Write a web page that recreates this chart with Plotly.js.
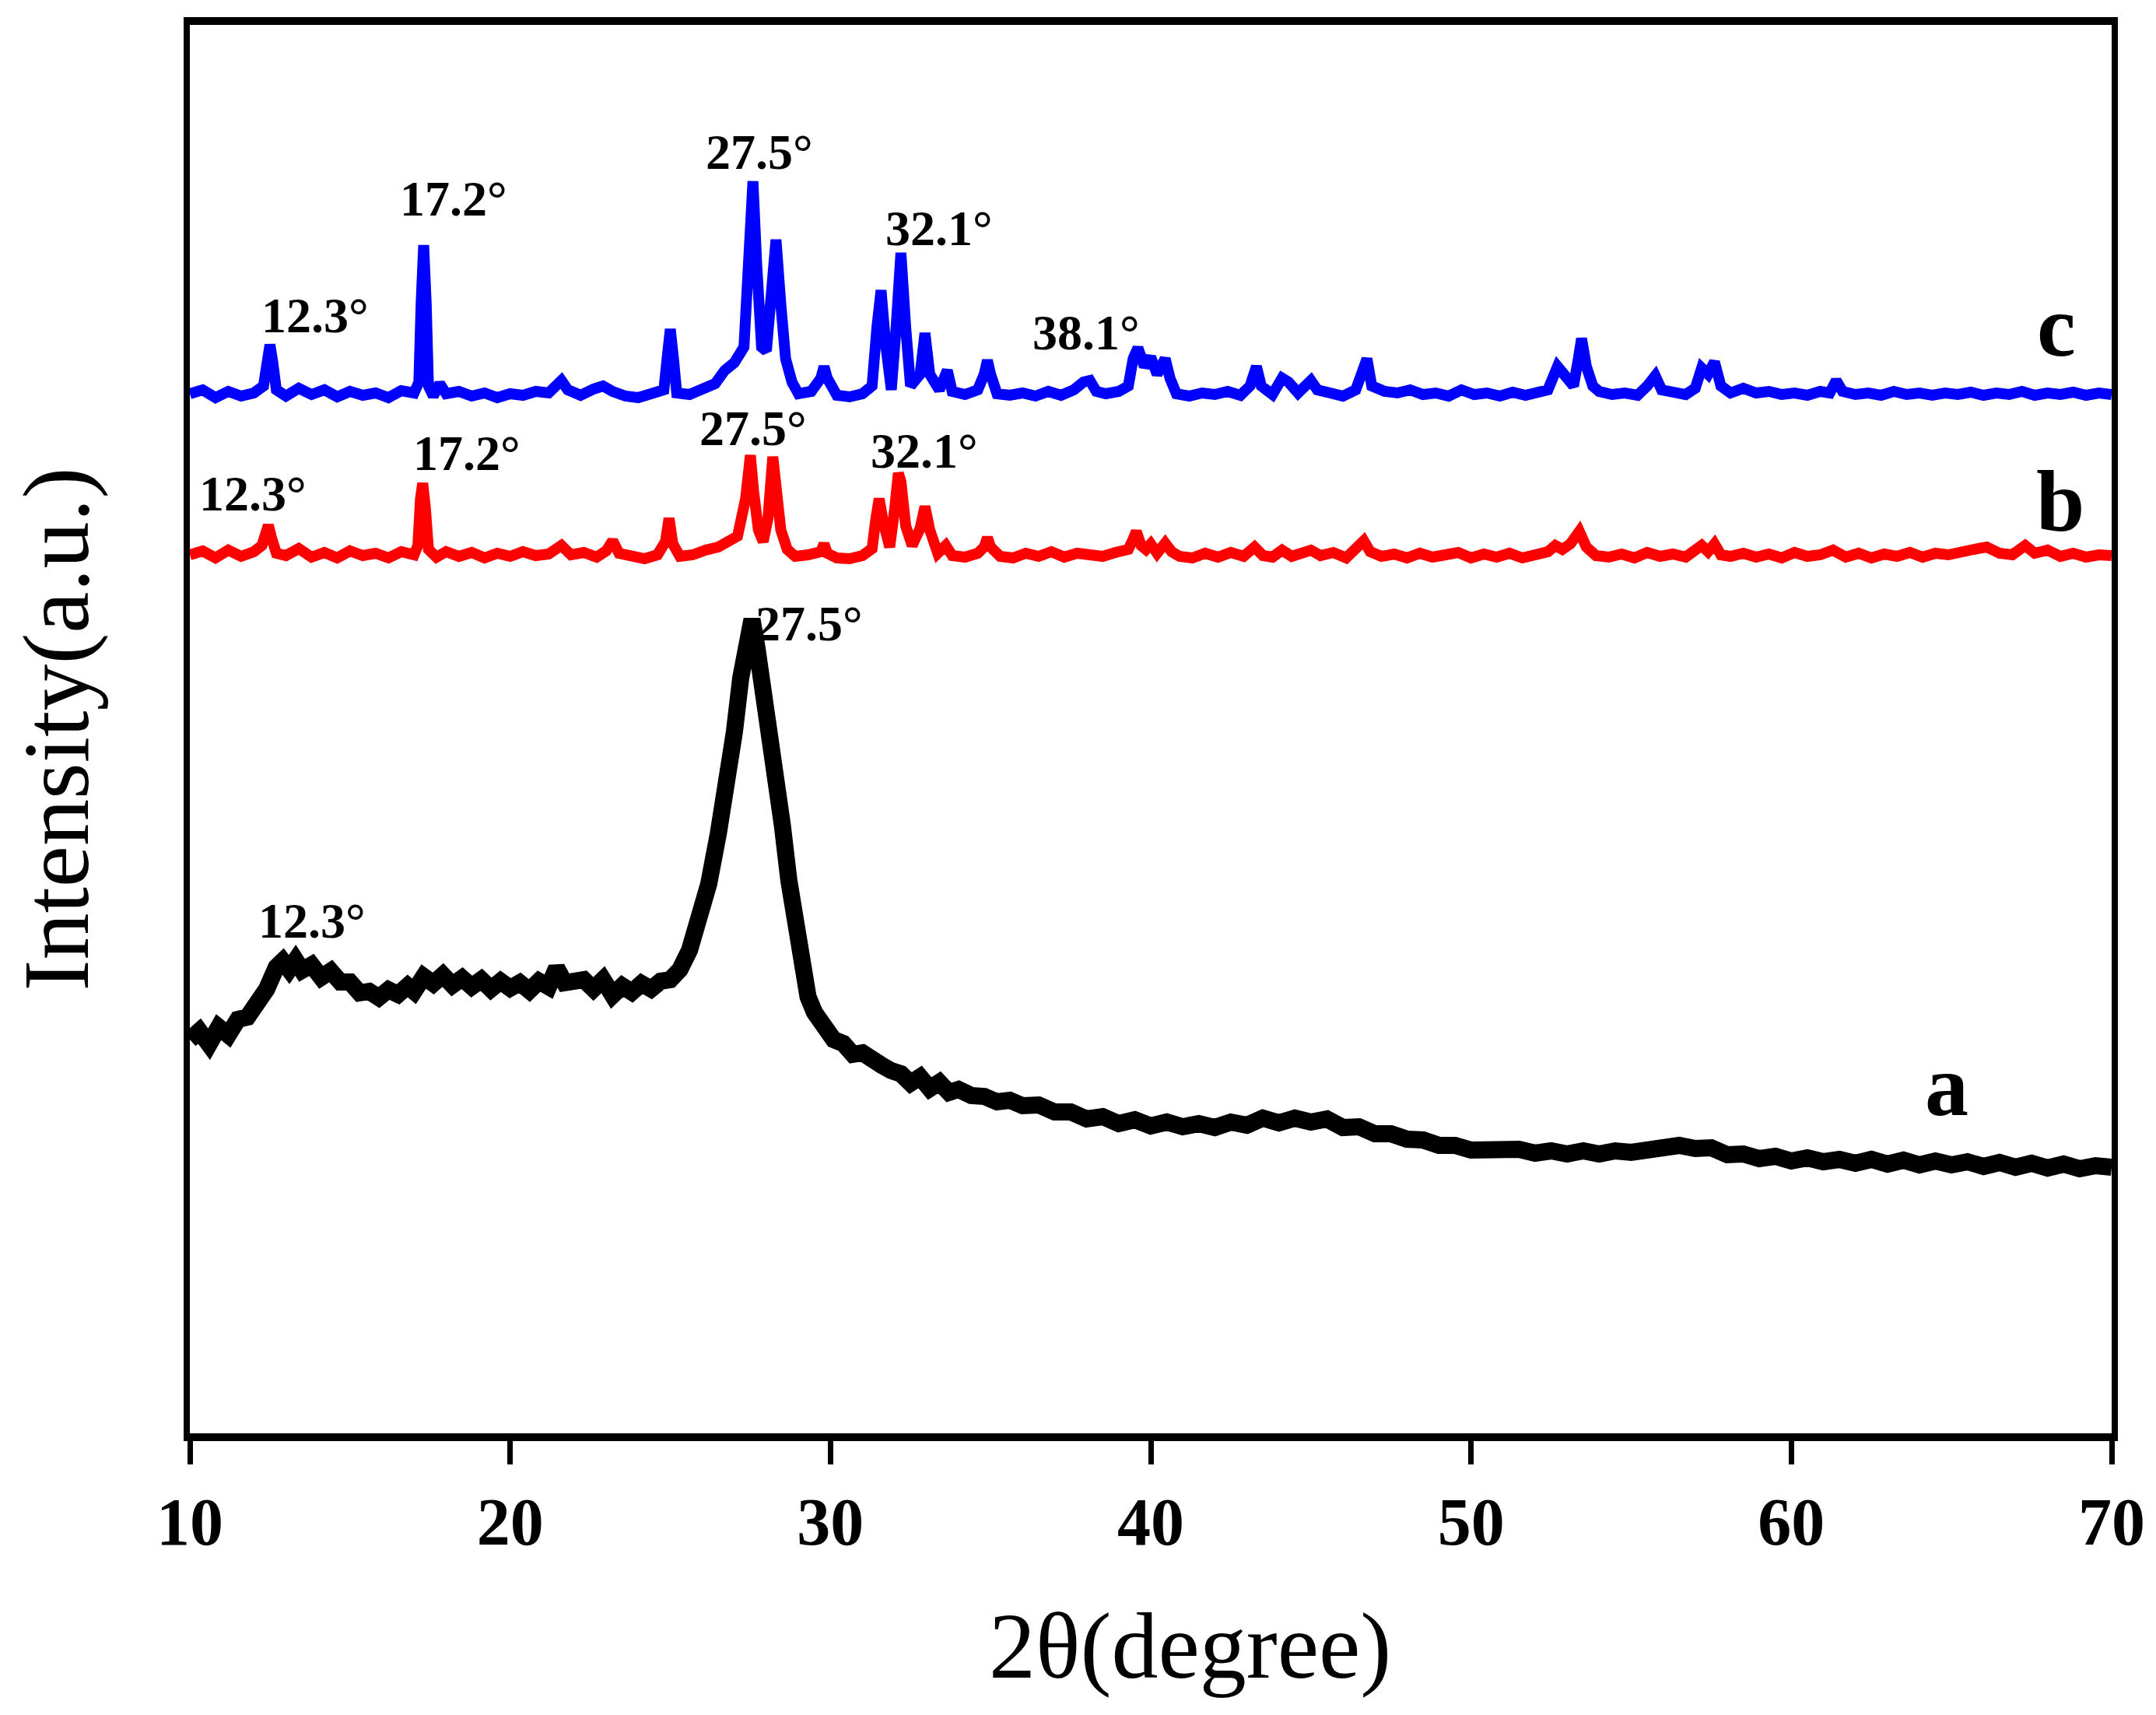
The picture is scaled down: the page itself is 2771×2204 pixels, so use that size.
<!DOCTYPE html>
<html>
<head>
<meta charset="utf-8">
<script src="https://cdn.plot.ly/plotly-3.0.1.min.js"></script>
<style>
  html, body { margin: 0; padding: 0; background: #fff; }
</style>
</head>
<body>
<div id="chart"></div>
<script>
// curve a (black) - 2 theta and intensity (a.u.)
const xA = [
  10.0,10.3,10.6,10.9,11.2,11.5,11.8,12.1,12.4,12.7,
  12.9,13.1,13.3,13.5,13.8,14.1,14.4,14.7,15.0,15.3,
  15.6,15.9,16.2,16.5,16.8,17.0,17.3,17.6,17.9,18.2,
  18.5,18.8,19.1,19.4,19.7,20.0,20.3,20.6,20.9,21.2,
  21.45,21.7,22.0,22.3,22.6,22.9,23.2,23.5,23.8,24.1,
  24.4,24.7,25.0,25.3,25.6,25.9,26.2,26.5,26.8,27.0,
  27.2,27.4,27.55,27.7,27.9,28.1,28.3,28.5,28.7,28.9,
  29.1,29.3,29.5,29.8,30.1,30.4,30.7,31.0,31.3,31.6,
  31.9,32.2,32.5,32.8,33.1,33.4,33.7,34.0,34.4,34.8,
  35.2,35.6,36.0,36.5,37.0,37.5,38.0,38.5,39.0,39.5,
  40.0,40.5,41.0,41.5,42.0,42.5,43.0,43.5,44.0,44.5,
  45.0,45.5,46.0,46.5,47.0,47.5,48.0,48.5,49.0,49.5,
  50.0,50.5,51.0,51.5,52.0,52.5,53.0,53.5,54.0,54.5,
  55.0,55.5,56.0,56.5,57.0,57.5,58.0,58.5,59.0,59.5,
  60.0,60.5,61.0,61.5,62.0,62.5,63.0,63.5,64.0,64.5,
  65.0,65.5,66.0,66.5,67.0,67.5,68.0,68.5,69.0,69.5,
  70.0];
const yA = [
  505,516,499,521,511,531,534,551,570,598,
  606,595,607,594,601,585,593,579,579,565,
  567,559,569,563,574,567,586,577,588,575,
  584,573,582,570,580,571,578,568,580,573,
  597,578,578,582,570,582,562,574,566,577,
  570,580,582,595,620,660,705,770,840,900,
  970,1030,1045,1010,960,900,840,780,710,650,
  600,560,540,520,505,500,486,488,477,472,
  465,461,449,457,442,450,437,441,433,432,
  425,427,420,421,412,412,403,406,397,402,
  394,399,393,397,392,399,395,404,398,404,
  399,403,392,393,384,384,377,376,369,369,
  363,364,361,364,359,362,358,362,358,362,
  360,364,363,369,365,366,357,358,352,355,
  349,353,348,351,346,351,345,350,344,349,
  344,348,342,347,341,346,340,345,339,343,
  341];

// curve b (red)
const xB = [
  10.0,10.4,10.8,11.2,11.6,12.0,12.25,12.38,12.45,12.55,
  12.7,13.0,13.4,13.8,14.2,14.6,15.0,15.4,15.8,16.2,
  16.6,17.0,17.12,17.2,17.27,17.35,17.45,17.7,18.0,18.4,
  18.8,19.2,19.6,20.0,20.4,20.8,21.2,21.6,21.9,22.3,
  22.7,23.0,23.2,23.4,23.8,24.2,24.6,24.85,24.96,25.08,
  25.3,25.7,26.1,26.5,26.8,27.1,27.35,27.5,27.6,27.75,
  27.9,28.05,28.2,28.3,28.45,28.65,28.9,29.3,29.7,29.8,
  29.9,30.2,30.6,31.0,31.3,31.42,31.52,31.65,31.85,32.0,
  32.12,32.2,32.35,32.55,32.8,32.95,33.1,33.35,33.6,33.8,
  34.2,34.6,34.8,34.9,35.0,35.3,35.7,36.1,36.5,36.9,
  37.3,37.7,38.1,38.5,38.9,39.3,39.45,39.55,39.7,39.85,
  40.0,40.2,40.45,40.65,40.9,41.3,41.7,42.1,42.5,42.9,
  43.24,43.5,43.8,44.1,44.4,44.7,45.0,45.3,45.7,46.1,
  46.45,46.65,46.85,47.2,47.6,48.0,48.4,48.8,49.2,49.6,
  50.0,50.4,50.8,51.2,51.6,52.0,52.4,52.63,52.85,53.1,
  53.38,53.6,53.9,54.3,54.7,55.1,55.5,55.9,56.3,56.7,
  57.0,57.2,57.4,57.6,57.8,58.1,58.5,58.9,59.3,59.7,
  60.1,60.5,60.9,61.3,61.7,62.1,62.5,62.9,63.3,63.7,
  64.1,64.5,64.9,65.3,65.7,66.1,66.5,66.9,67.3,67.6,
  68.0,68.4,68.8,69.2,69.6,70.0];
const yB = [
  1128,1133,1124,1134,1126,1132,1140,1160,1166,1150,
  1130,1127,1136,1125,1131,1124,1133,1127,1130,1124,
  1132,1128,1140,1200,1220,1190,1135,1125,1132,1126,
  1131,1124,1130,1126,1132,1127,1129,1140,1128,1131,
  1125,1133,1146,1130,1126,1123,1128,1145,1175,1142,
  1126,1128,1134,1138,1145,1152,1200,1256,1210,1160,
  1145,1175,1254,1215,1160,1135,1126,1128,1132,1142,
  1130,1124,1123,1127,1136,1175,1200,1170,1138,1185,
  1233,1222,1165,1140,1162,1190,1160,1130,1140,1127,
  1125,1130,1138,1150,1138,1126,1124,1130,1126,1132,
  1125,1130,1127,1126,1131,1135,1148,1158,1140,1135,
  1142,1130,1143,1132,1126,1124,1130,1125,1131,1126,
  1138,1127,1125,1134,1126,1129,1134,1127,1131,1124,
  1136,1146,1132,1126,1129,1124,1130,1125,1128,1131,
  1124,1129,1125,1130,1124,1128,1132,1140,1135,1142,
  1158,1138,1127,1125,1129,1124,1131,1126,1129,1125,
  1132,1140,1132,1142,1128,1126,1130,1125,1129,1124,
  1131,1126,1128,1134,1125,1130,1124,1129,1126,1131,
  1125,1130,1128,1133,1135,1138,1130,1128,1140,1130,
  1134,1126,1130,1125,1128,1127];

// curve c (blue)
const xC = [
  10.0,10.4,10.8,11.2,11.6,12.0,12.3,12.42,12.5,12.58,
  12.7,13.0,13.4,13.8,14.2,14.6,15.0,15.4,15.8,16.2,
  16.6,17.0,17.15,17.22,17.3,17.38,17.45,17.6,17.8,18.0,
  18.4,18.8,19.2,19.6,20.0,20.4,20.8,21.2,21.6,21.8,
  22.2,22.6,22.9,23.2,23.6,24.0,24.4,24.8,24.9,25.0,
  25.1,25.2,25.6,26.0,26.4,26.7,27.0,27.3,27.45,27.58,
  27.7,27.85,28.0,28.15,28.3,28.45,28.6,28.8,29.0,29.4,
  29.7,29.8,29.9,30.2,30.6,31.0,31.3,31.45,31.58,31.72,
  31.9,32.05,32.2,32.35,32.5,32.8,32.95,33.1,33.4,33.65,
  33.8,34.2,34.6,34.8,34.9,35.0,35.2,35.6,36.0,36.4,
  36.8,37.2,37.6,37.9,38.1,38.3,38.6,39.0,39.3,39.45,
  39.6,39.8,40.0,40.2,40.45,40.6,40.8,41.2,41.6,42.0,
  42.4,42.8,43.1,43.3,43.45,43.8,44.1,44.3,44.6,45.0,
  45.2,45.6,46.0,46.4,46.6,46.75,46.9,47.3,47.7,48.1,
  48.5,48.9,49.3,49.7,50.1,50.5,50.9,51.3,51.7,52.1,
  52.4,52.7,52.9,53.2,53.35,53.45,53.6,53.8,54.0,54.4,
  54.8,55.2,55.5,55.75,55.95,56.3,56.7,57.0,57.2,57.4,
  57.6,57.8,58.1,58.5,58.9,59.3,59.7,60.1,60.5,60.9,
  61.2,61.4,61.6,62.0,62.4,62.8,63.2,63.6,64.0,64.4,
  64.8,65.2,65.6,66.0,66.4,66.8,67.2,67.6,68.0,68.4,
  68.8,69.2,69.6,70.0];
const yC = [
  1335,1340,1330,1338,1332,1336,1345,1380,1398,1378,
  1340,1332,1342,1334,1340,1331,1338,1333,1336,1330,
  1339,1336,1350,1450,1526,1450,1345,1332,1348,1335,
  1338,1332,1336,1330,1335,1333,1338,1336,1352,1340,
  1333,1341,1345,1338,1332,1330,1334,1340,1380,1418,
  1380,1336,1334,1340,1348,1365,1375,1395,1500,1608,
  1500,1395,1390,1450,1533,1450,1380,1350,1335,1338,
  1355,1370,1355,1333,1331,1335,1345,1420,1468,1400,
  1340,1420,1516,1420,1345,1360,1413,1360,1340,1365,
  1338,1334,1340,1360,1378,1360,1335,1333,1336,1332,
  1338,1333,1340,1350,1352,1338,1335,1338,1345,1380,
  1394,1370,1382,1360,1380,1355,1335,1332,1336,1334,
  1338,1333,1345,1370,1345,1334,1355,1350,1336,1352,
  1340,1336,1332,1340,1370,1380,1345,1338,1336,1340,
  1334,1336,1332,1340,1334,1336,1332,1337,1333,1336,
  1340,1370,1360,1345,1380,1406,1370,1345,1338,1334,
  1336,1333,1345,1358,1340,1336,1334,1342,1368,1360,
  1376,1345,1336,1342,1336,1338,1334,1336,1333,1338,
  1336,1352,1338,1334,1336,1333,1338,1334,1336,1333,
  1336,1334,1337,1333,1336,1334,1338,1333,1336,1334,
  1337,1333,1336,1334];

// peak labels and curve names
const labelText = ["12.3°","17.2°","27.5°","32.1°","38.1°","c","12.3°","17.2°","27.5°","32.1°","b","27.5°","12.3°","a"];
const labelX = [13.91,18.23,27.78,33.39,37.98,68.27,11.97,18.65,27.59,32.93,68.4,29.33,13.81,64.85];
const labelY = [1436,1586,1646,1548,1414,1422,1207,1259,1291,1262,1197,1040,658,446];
const labelBig = [false,false,false,false,false,true,false,false,false,false,true,false,false,true];

const serif = "'Times New Roman', 'Liberation Serif', serif";

const traces = [
  {x: xA, y: yA, mode: 'lines', line: {color: '#000000', width: 22}, name: 'a'},
  {x: xB, y: yB, mode: 'lines', line: {color: '#FF0000', width: 14}, name: 'b'},
  {x: xC, y: yC, mode: 'lines', line: {color: '#0000FF', width: 14}, name: 'c'}
];

const annotations = labelText.map((t, i) => ({
  x: labelX[i], y: labelY[i], xref: 'x', yref: 'y',
  text: t, showarrow: false,
  font: {family: serif, size: labelBig[i] ? 112 : 64, color: '#000', weight: 'bold'}
}));

// x axis title, placed as in the original figure
annotations.push({
  xref: 'paper', yref: 'paper', x: 0.5206, y: -0.151,
  xanchor: 'center', yanchor: 'middle', showarrow: false,
  text: '2θ(degree)',
  font: {family: serif, size: 120, color: '#000'}
});

const layout = {
  width: 2771,
  height: 2204,
  margin: {l: 244, r: 57, t: 32, b: 362},
  paper_bgcolor: '#fff',
  plot_bgcolor: '#fff',
  showlegend: false,
  font: {family: serif, color: '#000'},
  xaxis: {
    range: [10, 70],
    dtick: 10,
    tick0: 10,
    ticks: 'outside',
    ticklen: 30,
    tickwidth: 7,
    tickcolor: '#000',
    showgrid: false,
    zeroline: false,
    showline: true,
    linewidth: 10,
    linecolor: '#000',
    mirror: true,
    tickfont: {family: serif, size: 86, color: '#000', weight: 'bold'}
  },
  // minor ticks halfway between the labelled ones (they start under the 10px axis line)
  xaxis2: {
    overlaying: 'x',
    anchor: 'y',
    side: 'bottom',
    range: [10, 70],
    tick0: 15,
    dtick: 10,
    ticks: 'outside',
    ticklen: 21,
    tickwidth: 7,
    tickcolor: '#000',
    showticklabels: false,
    showgrid: false,
    zeroline: false,
    showline: false
  },
  yaxis: {
    range: [-1, 1809],
    showticklabels: false,
    ticks: '',
    showgrid: false,
    zeroline: false,
    showline: true,
    linewidth: 8,
    linecolor: '#000',
    mirror: true,
    title: {text: 'Intensity(a.u.)', font: {family: serif, size: 120, color: '#000'}, standoff: 85}
  },
  annotations: annotations
};

Plotly.newPlot('chart', traces, layout, {staticPlot: true});
</script>
</body>
</html>
